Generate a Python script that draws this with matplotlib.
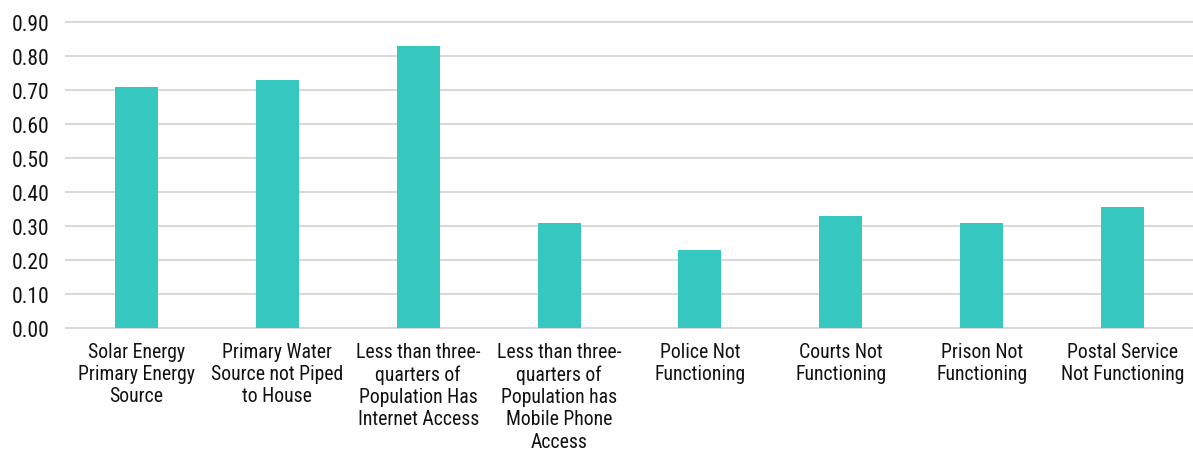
import matplotlib.pyplot as plt
from matplotlib import font_manager

categories = [
    'Solar Energy\nPrimary Energy\nSource',
    'Primary Water\nSource not Piped\nto House',
    'Less than three-\nquarters of\nPopulation Has\nInternet Access',
    'Less than three-\nquarters of\nPopulation has\nMobile Phone\nAccess',
    'Police Not\nFunctioning',
    'Courts Not\nFunctioning',
    'Prison Not\nFunctioning',
    'Postal Service\nNot Functioning',
]
values = [0.71, 0.73, 0.83, 0.31, 0.23, 0.33, 0.31, 0.355]
yticks = [0.0, 0.1, 0.2, 0.3, 0.4, 0.5, 0.6, 0.7, 0.8, 0.9]

# prefer a condensed face if one is installed
names = {f.name for f in font_manager.fontManager.ttflist}
family = 'Roboto'
for cand in ['Roboto Condensed', 'Liberation Sans Narrow', 'Arial Narrow']:
    if cand in names:
        family = cand
        break
plt.rcParams['font.family'] = [family, 'DejaVu Sans']

fig = plt.figure(figsize=(11.93, 4.52), dpi=100)
ax = fig.add_axes([66 / 1193, 123 / 452, 1 - 66 / 1193, 306 / 452])

x = range(len(categories))
ax.bar(x, values, width=0.305, color='#36C8C0', zorder=3)

ax.set_xlim(-0.5, len(categories) - 0.5)
ax.set_ylim(0, 0.9)
ax.set_yticks(yticks)
ax.set_yticklabels([f'{v:.2f}' for v in yticks], fontsize=15.5, color='#111111')
ax.set_xticks(list(x))
ax.set_xticklabels(categories, fontsize=14.2, color='#111111', linespacing=1.22)
ax.tick_params(axis='both', length=0)
ax.tick_params(axis='y', pad=12)
ax.tick_params(axis='x', pad=10)
ax.grid(axis='y', color='#d9d9d9', linewidth=1.5, zorder=0)
for s in ax.spines.values():
    s.set_visible(False)
for gl in ax.get_ygridlines():
    gl.set_clip_on(False)

fig.savefig('out.png', dpi=100)
